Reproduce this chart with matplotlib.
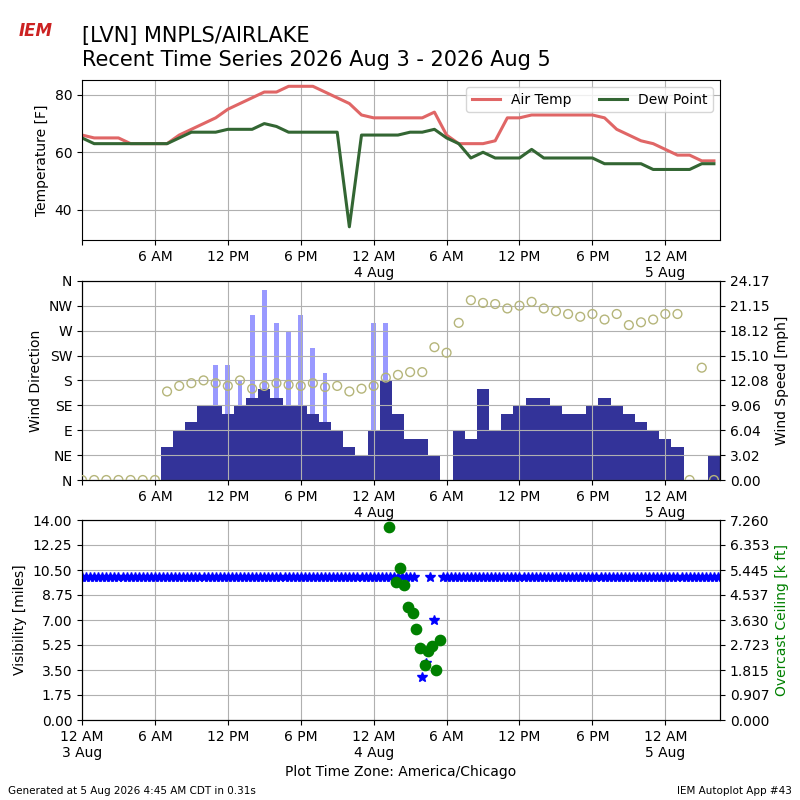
import numpy as np
import matplotlib
matplotlib.use("Agg")
import matplotlib.pyplot as plt

# hours since 2026-08-03 00:00 CDT
hours = np.arange(0, 53)
air_temp = [66, 65, 65, 65, 63, 63, 63, 63, 66, 68, 70, 72, 75, 77, 79, 81, 81, 83, 83, 83,
            81, 79, 77, 73, 72, 72, 72, 72, 72, 74, 66, 63, 63, 63, 64, 72, 72, 73, 73, 73,
            73, 73, 73, 72, 68, 66, 64, 63, 61, 59, 59, 57, 57]
dew_point = [65, 63, 63, 63, 63, 63, 63, 63, 65, 67, 67, 67, 68, 68, 68, 70, 69, 67, 67, 67,
             67, 67, 34, 66, 66, 66, 66, 67, 67, 68, 65, 63, 58, 60, 58, 58, 58, 61, 58, 58,
             58, 58, 58, 56, 56, 56, 56, 54, 54, 54, 54, 56, 56]
wind_speed = [0, 0, 0, 0, 0, 0, 0, 4, 6, 7, 9, 9, 8, 9, 10, 11, 10, 9, 9, 8,
              7, 6, 4, 3, 6, 12, 8, 5, 5, 3, 0, 6, 5, 11, 6, 8, 9, 10, 10, 9,
              8, 8, 9, 10, 9, 8, 7, 6, 5, 4, 0, 0, 3]
wind_gust = [0, 0, 0, 0, 0, 0, 0, 0, 0, 0, 0, 14, 14, 12, 20, 23, 19, 18, 20, 16,
             13, 0, 0, 0, 19, 19, 0, 0, 0, 0, 0, 0, 0, 0, 0, 0, 0, 0, 0, 0,
             0, 0, 0, 0, 0, 0, 0, 0, 0, 0, 0, 0, 0]
wind_dir = [0, 0, 0, 0, 0, 0, 0, 160, 170, 175, 180, 175, 170, 180, 165, 170, 175, 172, 170, 175,
            168, 170, 160, 165, 170, 185, 190, 195, 195, 240, 230, 284, 325, 320, 318, 310, 315, 322, 310, 305,
            300, 295, 300, 290, 300, 280, 285, 290, 300, 300, 0, 203, 0]
speed_ticks = ["0.00", "3.02", "6.04", "9.06", "12.08", "15.10", "18.12", "21.15", "24.17"]

vis_hours = np.arange(0, 52.7, 1 / 3)
visibility = np.full(len(vis_hours), 10.0)
vis_special_h = [27.7, 28.0, 28.3, 28.7, 29.0, 29.3]
vis_special_v = [np.nan, 3.0, 4.0, 10.0, 7.0, np.nan]
for h, v in zip(vis_special_h, vis_special_v):
    visibility[np.argmin(np.abs(vis_hours - h))] = v
ceil_hours = [25.3, 26.2, 25.8, 26.5, 26.8, 27.2, 27.5, 27.8, 28.5, 28.8, 28.2, 29.1, 29.5]
ceiling = [7.0, 5.5, 5.0, 4.9, 4.1, 3.9, 3.3, 2.6, 2.5, 2.7, 2.0, 1.8, 2.9]

tick_h = [0, 6, 12, 18, 24, 30, 36, 42, 48]
tick_lbl = ["12 AM\n3 Aug", "6 AM", "12 PM", "6 PM", "12 AM\n4 Aug", "6 AM", "12 PM", "6 PM", "12 AM\n5 Aug"]
xmax = 52.5

fig = plt.figure(figsize=(8, 8), dpi=100)
ax1 = fig.add_axes([0.1025, 0.70, 0.7975, 0.20])
ax2 = fig.add_axes([0.1025, 0.40, 0.7975, 0.249])
ax3 = fig.add_axes([0.1025, 0.10, 0.7975, 0.25])

fig.text(0.1025, 0.955, "[LVN] MNPLS/AIRLAKE", fontsize=15, va="center")
fig.text(0.1025, 0.925, "Recent Time Series 2026 Aug 3 - 2026 Aug 5", fontsize=15, va="center")
fig.text(0.045, 0.955, "IEM", color="#cc2222", fontsize=12, style="italic", fontweight="bold", ha="center")

ax1.plot(hours, air_temp, color="#e06666", lw=2.2, label="Air Temp")
ax1.plot(hours, dew_point, color="#336633", lw=2.2, label="Dew Point")
ax1.set_ylim(29.4, 85.2)
ax1.set_yticks([40, 60, 80])
ax1.set_ylabel("Temperature [F]")
ax1.legend(loc="upper right", ncol=2)

ax2b = ax2.twinx()
ax2b.bar(hours, wind_gust, width=0.4, color="#9999ff", align="center")
ax2b.bar(hours, wind_speed, width=1.0, color="#333399", align="center")
ax2b.set_ylim(0, 24.17)
ax2b.set_yticks(np.linspace(0, 24.17, 9))
ax2b.set_yticklabels(speed_ticks)
ax2b.set_ylabel("Wind Speed [mph]")
ax2.set_zorder(ax2b.get_zorder() + 1)
ax2.patch.set_visible(False)
ax2.scatter(hours, wind_dir, s=40, facecolors="none", edgecolors="#b5b57a", zorder=5)
ax2.set_ylim(0, 360)
ax2.set_yticks(np.arange(0, 361, 45))
ax2.set_yticklabels(["N", "NE", "E", "SE", "S", "SW", "W", "NW", "N"])
ax2.set_ylabel("Wind Direction")

ax3.plot(vis_hours, visibility, "*", color="blue", ms=7, ls="none")
ax3.set_ylim(0, 14)
ax3.set_yticks(np.arange(0, 14.01, 1.75))
ax3.set_yticklabels([f"{v:.2f}" for v in np.arange(0, 14.01, 1.75)])
ax3.set_ylabel("Visibility [miles]")
ax3b = ax3.twinx()
ax3b.scatter(ceil_hours, ceiling, color="green", s=55)
ax3b.set_ylim(0, 7.26)
ax3b.set_yticks(np.linspace(0, 7.26, 9))
ax3b.set_yticklabels([f"{v:.3f}" for v in np.linspace(0, 7.26, 9)])
ax3b.set_ylabel("Overcast Ceiling [k ft]", color="green")
ax3.set_xlabel("Plot Time Zone: America/Chicago")

for ax in (ax1, ax2, ax3):
    ax.set_xlim(0, xmax)
    ax.set_xticks(tick_h)
    ax.grid(True)
ax3.set_xticklabels(tick_lbl)
for ax in (ax1, ax2):
    ax.set_xticklabels([""] + tick_lbl[1:])

fig.text(0.01, 0.008, "Generated at 5 Aug 2026 4:45 AM CDT in 0.31s", fontsize=7.5)
fig.text(0.99, 0.008, "IEM Autoplot App #43", fontsize=7.5, ha="right")

fig.savefig("out.png")
